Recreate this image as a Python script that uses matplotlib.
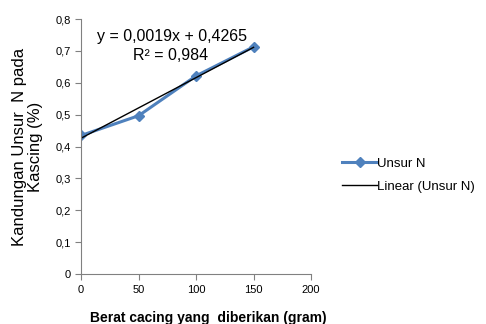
import matplotlib.pyplot as plt
import numpy as np

plt.rcParams['font.family'] = ['Liberation Sans', 'DejaVu Sans']

# data
berat = [0, 50, 100, 150]
unsur_n = [0.435, 0.497, 0.622, 0.713]
slope, intercept = 0.0019, 0.4265
x_ticks = [0, 50, 100, 150, 200]
y_ticks = [0, 0.1, 0.2, 0.3, 0.4, 0.5, 0.6, 0.7, 0.8]

fig = plt.figure(figsize=(4.86, 3.24), dpi=100)
ax = fig.add_axes([0.167, 0.154, 0.473, 0.787])

l1, = ax.plot(berat, unsur_n, color='#4F81BD', linewidth=2.2, marker='D',
              markersize=5, label='Unsur N')
xt = np.array([berat[0], berat[-1]])
l2, = ax.plot(xt, slope * xt + intercept, color='black', linewidth=1.0,
              label='Linear (Unsur N)')

ax.set_xlim(0, 200)
ax.set_ylim(0, 0.8)
ax.set_xticks(x_ticks)
ax.set_yticks(y_ticks)
ax.set_yticklabels([('%g' % v).replace('.', ',') for v in y_ticks])
ax.tick_params(labelsize=8, direction='out', length=4, color='#808080')
for s in ['top', 'right']:
    ax.spines[s].set_visible(False)
for s in ['left', 'bottom']:
    ax.spines[s].set_color('#808080')

ax.text(79, 0.745, 'y = 0,0019x + 0,4265', fontsize=11.5, ha='center', va='center')
ax.text(78, 0.685, 'R² = 0,984', fontsize=11.5, ha='center', va='center')

ax.set_ylabel('Kandungan Unsur  N pada\nKascing (%)', fontsize=12, linespacing=1.1)
ax.yaxis.set_label_coords(-0.165, 0.5)
ax.set_xlabel('Berat cacing yang  diberikan (gram)', fontsize=10, fontweight='bold',
              va='bottom')
ax.xaxis.set_label_coords(0.552, -0.2)

fig.legend(handles=[l1, l2], loc='upper left', bbox_to_anchor=(0.68, 0.55),
           frameon=False, fontsize=9.5, handlelength=2.6, handletextpad=0.0,
           labelspacing=0.8)

fig.savefig('out.png', dpi=100)
